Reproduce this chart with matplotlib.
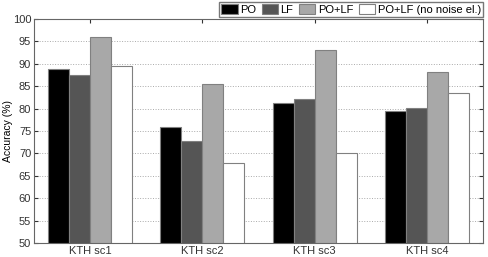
import numpy as np
import matplotlib.pyplot as plt

plt.rc('font', family='Liberation Sans', size=8)

groups = ['KTH sc1', 'KTH sc2', 'KTH sc3', 'KTH sc4']
series = ['PO', 'LF', 'PO+LF', 'PO+LF (no noise el.)']
po = [88.8, 76.0, 81.3, 79.5]
lf = [87.4, 72.8, 82.1, 80.1]
polf = [96.0, 85.4, 93.1, 88.2]
polf_nn = [89.4, 67.9, 70.0, 83.5]
colors = ['#000000', '#555555', '#a8a8a8', '#ffffff']

fig = plt.figure(figsize=(4.88, 2.57), dpi=100)
ax = fig.add_axes([34/488, 14/257, 449/488, 224/257])
x = np.arange(1, len(groups) + 1)
w = 0.1875
for i, (vals, c, name) in enumerate(zip([po, lf, polf, polf_nn], colors, series)):
    ax.bar(x + (i - 1.5) * w, vals, w, color=c, edgecolor='#808080', lw=0.8, label=name, zorder=2)

ax.set_xlim(0.5, 4.5)
ax.set_ylim(50, 100)
ax.set_yticks(range(50, 101, 5))
ax.set_xticks(x)
ax.set_xticklabels(groups)
ax.set_ylabel('Accuracy (%)', fontsize=7.5)
ax.yaxis.set_label_coords(-0.046, 0.5)
ax.yaxis.grid(True, ls=':', color='#aaaaaa', lw=0.7, zorder=0)
ax.tick_params(direction='in', length=3, top=True, right=True, pad=2, colors='#333333')
for s in ax.spines.values():
    s.set_color('#666666')
    s.set_linewidth(0.8)
leg = ax.legend(ncol=4, loc='lower right', bbox_to_anchor=(1.0, 1.01), frameon=True, fancybox=False,
                edgecolor='#555555', handlelength=1.5, handleheight=1.0, handletextpad=0.2,
                columnspacing=0.5, borderpad=0.2, borderaxespad=0.0)
fig.savefig('out.png', dpi=100)
